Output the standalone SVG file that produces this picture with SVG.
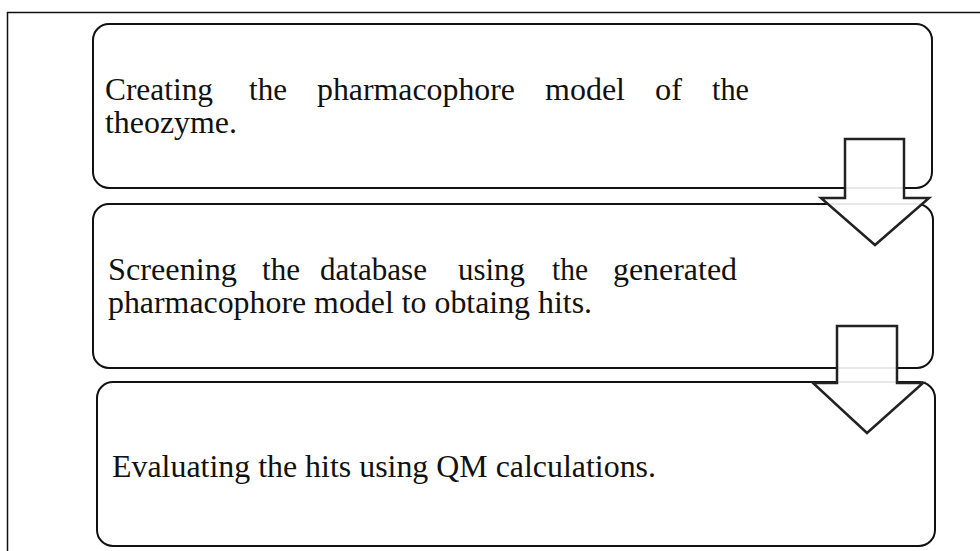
<svg xmlns="http://www.w3.org/2000/svg" width="980" height="551" viewBox="0 0 980 551">
  <style>
    .frame { fill: none; stroke: #111; stroke-width: 1.5; }
    .box { fill: #fff; stroke: #111; stroke-width: 2; }
    .arrow { fill: #fff; fill-opacity: 0.9; stroke: #222; stroke-width: 2.5; stroke-linejoin: miter; }
    .label { font-family: "Liberation Serif", "Times New Roman", serif; font-size: 31px; fill: #111; }
  </style>
  <rect x="0" y="0" width="980" height="551" fill="#fff"/>
  <!-- outer frame, open past the right and bottom edges -->
  <rect class="frame" x="7.5" y="12.5" width="1000" height="600"/>

  <g id="step1">
    <rect class="box" x="93" y="24" width="839" height="164" rx="16" ry="16"/>
    <g class="label">
      <text x="105" y="100" textLength="108" lengthAdjust="spacingAndGlyphs">Creating</text>
      <text x="249" y="100" textLength="38" lengthAdjust="spacingAndGlyphs">the</text>
      <text x="317" y="100" textLength="198" lengthAdjust="spacingAndGlyphs">pharmacophore</text>
      <text x="545" y="100" textLength="80" lengthAdjust="spacingAndGlyphs">model</text>
      <text x="655" y="100" textLength="27" lengthAdjust="spacingAndGlyphs">of</text>
      <text x="712" y="100" textLength="37" lengthAdjust="spacingAndGlyphs">the</text>
      <text x="105" y="133" textLength="132" lengthAdjust="spacingAndGlyphs">theozyme.</text>
    </g>
  </g>

  <g id="step2">
    <rect class="box" x="93" y="204" width="840" height="164" rx="16" ry="16"/>
    <g class="label">
      <text x="108" y="280" textLength="129" lengthAdjust="spacingAndGlyphs">Screening</text>
      <text x="262" y="280" textLength="38" lengthAdjust="spacingAndGlyphs">the</text>
      <text x="320" y="280" textLength="107" lengthAdjust="spacingAndGlyphs">database</text>
      <text x="458" y="280" textLength="67" lengthAdjust="spacingAndGlyphs">using</text>
      <text x="552" y="280" textLength="36" lengthAdjust="spacingAndGlyphs">the</text>
      <text x="613" y="280" textLength="124" lengthAdjust="spacingAndGlyphs">generated</text>
      <text x="108" y="313" textLength="484" lengthAdjust="spacingAndGlyphs">pharmacophore model to obtaing hits.</text>
    </g>
  </g>

  <g id="step3">
    <rect class="box" x="97" y="382" width="838" height="164" rx="16" ry="16"/>
    <g class="label">
      <text x="112" y="477" textLength="544" lengthAdjust="spacingAndGlyphs">Evaluating the hits using QM calculations.</text>
    </g>
  </g>

  <g id="connectors">
    <polygon class="arrow" points="845,139 904,139 904,198 929,198 875,245 821,198 845,198"/>
    <polygon class="arrow" points="837,326 897,326 897,383 923,383 867,433 813,383 837,383"/>
  </g>
</svg>
